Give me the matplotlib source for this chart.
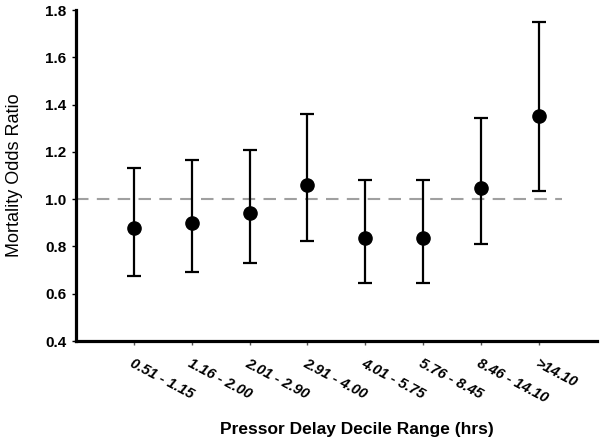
import matplotlib
matplotlib.use("Agg")
import matplotlib.pyplot as plt

categories = ["0.51 - 1.15", "1.16 - 2.00", "2.01 - 2.90", "2.91 - 4.00",
              "4.01 - 5.75", "5.76 - 8.45", "8.46 - 14.10", ">14.10"]
odds_ratio = [0.877, 0.900, 0.943, 1.060, 0.836, 0.836, 1.046, 1.350]
ci_lower = [0.676, 0.693, 0.732, 0.824, 0.646, 0.646, 0.810, 1.035]
ci_upper = [1.133, 1.165, 1.208, 1.359, 1.079, 1.079, 1.345, 1.750]
y_ticks = [0.4, 0.6, 0.8, 1.0, 1.2, 1.4, 1.6, 1.8]

plt.rcParams['font.family'] = ['Liberation Sans', 'DejaVu Sans']

fig = plt.figure(figsize=(6, 4.45), dpi=100)
ax = fig.add_axes([0.1267, 0.2337, 0.868, 0.7438])

x = list(range(1, len(categories) + 1))
yerr = [[o - l for o, l in zip(odds_ratio, ci_lower)],
        [u - o for o, u in zip(odds_ratio, ci_upper)]]

ax.plot([0, 8.4], [1.0, 1.0], color='#a0a0a0', lw=1.5, dashes=(6, 4), zorder=1)
ax.errorbar(x, odds_ratio, yerr=yerr, fmt='o', color='black', ms=9.5,
            elinewidth=1.6, capsize=4.8, capthick=1.6, zorder=3)

ax.set_xlim(0, 9)
ax.set_ylim(0.4, 1.8)
ax.set_yticks(y_ticks)
ax.set_yticklabels([f"{v:.1f}" for v in y_ticks], fontsize=11, fontweight='bold')
ax.set_xticks(x)
ax.set_xticklabels(categories, rotation=-28, ha='left', rotation_mode='anchor',
                   fontsize=10.5, fontweight='bold', fontstyle='italic')

for s in ['top', 'right']:
    ax.spines[s].set_visible(False)
for s in ['left', 'bottom']:
    ax.spines[s].set_linewidth(2.3)
ax.tick_params(axis='y', direction='out', length=3, width=1, pad=4)
ax.tick_params(axis='x', direction='out', length=3, width=1, color='#555555', pad=8)

ax.set_ylabel("Mortality Odds Ratio", fontsize=13, labelpad=16)
ax.set_xlabel("Pressor Delay Decile Range (hrs)", fontsize=12.5, fontweight='bold')
ax.xaxis.set_label_coords(0.54, -0.245)

fig.savefig("out.png", dpi=100)
